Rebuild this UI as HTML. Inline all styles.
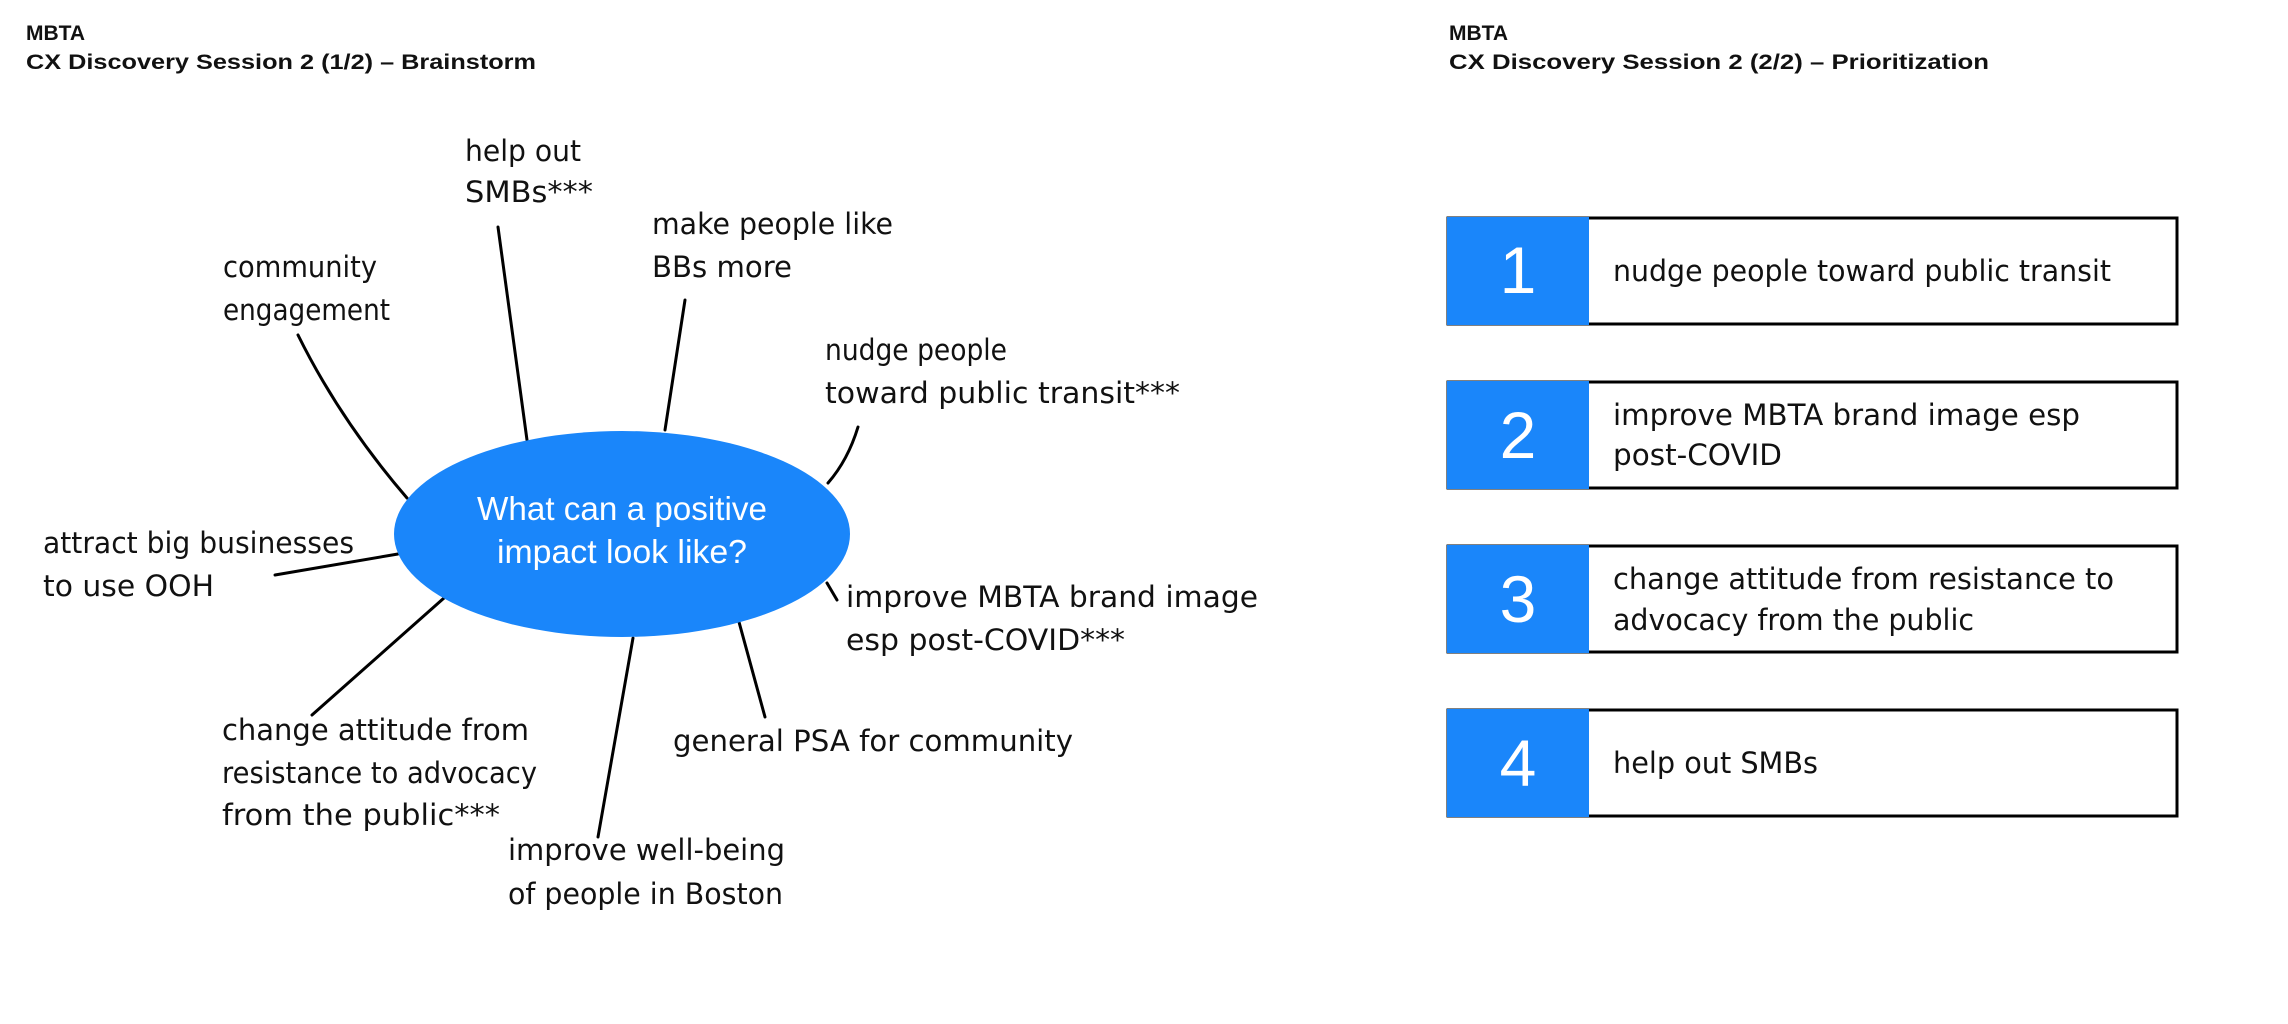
<!DOCTYPE html>
<html><head><meta charset="utf-8"><style>
html,body{margin:0;padding:0;background:#fff;}
svg{display:block}
.t{font-family:"Liberation Sans",sans-serif;font-weight:bold;font-size:21px;fill:#111}
.h{font-family:"DejaVu Sans","Liberation Sans",sans-serif;font-size:29px;fill:#111}
.c{font-family:"Liberation Sans",sans-serif;font-size:33px;fill:#fff}
.n{font-family:"Liberation Sans",sans-serif;font-size:66px;fill:#fff}
</style></head><body>
<svg width="2288" height="1024" viewBox="0 0 2288 1024" xmlns="http://www.w3.org/2000/svg">
<text class="t" x="26" y="40">MBTA</text>
<text class="t" x="26" y="69" textLength="510" lengthAdjust="spacingAndGlyphs">CX Discovery Session 2 (1/2) – Brainstorm</text>
<text class="t" x="1449" y="40">MBTA</text>
<text class="t" x="1449" y="69" textLength="540" lengthAdjust="spacingAndGlyphs">CX Discovery Session 2 (2/2) – Prioritization</text>

<g stroke="#000" stroke-width="3" fill="none" stroke-linecap="round">
<path d="M298,335 Q340,420 407,498"/>
<line x1="498" y1="227" x2="527" y2="440"/>
<line x1="685" y1="300" x2="665" y2="430"/>
<path d="M858,427 Q848,460 828,483"/>
<line x1="275" y1="575" x2="398" y2="554"/>
<line x1="312" y1="715" x2="444" y2="598"/>
<line x1="598" y1="837" x2="633" y2="638"/>
<line x1="765" y1="717" x2="739" y2="622"/>
<line x1="837" y1="600" x2="827" y2="583"/>
</g>
<ellipse cx="622" cy="534" rx="228" ry="103" fill="#1a86fa"/>
<text class="c" x="622" y="520" text-anchor="middle" textLength="290" lengthAdjust="spacingAndGlyphs">What can a positive</text>
<text class="c" x="622" y="563" text-anchor="middle" textLength="250" lengthAdjust="spacingAndGlyphs">impact look like?</text>

<text class="h" x="465" y="161" textLength="116" lengthAdjust="spacingAndGlyphs">help out</text>
<text class="h" x="465" y="202" textLength="128" lengthAdjust="spacingAndGlyphs">SMBs***</text>
<text class="h" x="652" y="234" textLength="241" lengthAdjust="spacingAndGlyphs">make people like</text>
<text class="h" x="652" y="277" textLength="140" lengthAdjust="spacingAndGlyphs">BBs more</text>
<text class="h" x="223" y="277" textLength="154" lengthAdjust="spacingAndGlyphs">community</text>
<text class="h" x="223" y="320" textLength="167" lengthAdjust="spacingAndGlyphs">engagement</text>
<text class="h" x="825" y="360" textLength="182" lengthAdjust="spacingAndGlyphs">nudge people</text>
<text class="h" x="825" y="403" textLength="355" lengthAdjust="spacingAndGlyphs">toward public transit***</text>
<text class="h" x="43" y="553" textLength="311" lengthAdjust="spacingAndGlyphs">attract big businesses</text>
<text class="h" x="43" y="596" textLength="171" lengthAdjust="spacingAndGlyphs">to use OOH</text>
<text class="h" x="846" y="607" textLength="412" lengthAdjust="spacingAndGlyphs">improve MBTA brand image</text>
<text class="h" x="846" y="650" textLength="279" lengthAdjust="spacingAndGlyphs">esp post-COVID***</text>
<text class="h" x="673" y="751" textLength="400" lengthAdjust="spacingAndGlyphs">general PSA for community</text>
<text class="h" x="222" y="740" textLength="307" lengthAdjust="spacingAndGlyphs">change attitude from</text>
<text class="h" x="222" y="783" textLength="315" lengthAdjust="spacingAndGlyphs">resistance to advocacy</text>
<text class="h" x="222" y="825" textLength="278" lengthAdjust="spacingAndGlyphs">from the public***</text>
<text class="h" x="508" y="860" textLength="277" lengthAdjust="spacingAndGlyphs">improve well-being</text>
<text class="h" x="508" y="904" textLength="275" lengthAdjust="spacingAndGlyphs">of people in Boston</text>

<g>
<rect x="1448" y="218" width="729" height="106" fill="#fff" stroke="#000" stroke-width="3"/>
<rect x="1447" y="217" width="142" height="108" fill="#1a86fa"/>
<text class="n" x="1518" y="293" text-anchor="middle">1</text>
<text class="h" x="1613" y="281" textLength="498" lengthAdjust="spacingAndGlyphs">nudge people toward public transit</text>

<rect x="1448" y="382" width="729" height="106" fill="#fff" stroke="#000" stroke-width="3"/>
<rect x="1447" y="381" width="142" height="108" fill="#1a86fa"/>
<text class="n" x="1518" y="458" text-anchor="middle">2</text>
<text class="h" x="1613" y="425" textLength="467" lengthAdjust="spacingAndGlyphs">improve MBTA brand image esp</text>
<text class="h" x="1613" y="465" textLength="169" lengthAdjust="spacingAndGlyphs">post-COVID</text>

<rect x="1448" y="546" width="729" height="106" fill="#fff" stroke="#000" stroke-width="3"/>
<rect x="1447" y="545" width="142" height="108" fill="#1a86fa"/>
<text class="n" x="1518" y="622" text-anchor="middle">3</text>
<text class="h" x="1613" y="589" textLength="501" lengthAdjust="spacingAndGlyphs">change attitude from resistance to</text>
<text class="h" x="1613" y="630" textLength="361" lengthAdjust="spacingAndGlyphs">advocacy from the public</text>

<rect x="1448" y="710" width="729" height="106" fill="#fff" stroke="#000" stroke-width="3"/>
<rect x="1447" y="709" width="142" height="108" fill="#1a86fa"/>
<text class="n" x="1518" y="786" text-anchor="middle">4</text>
<text class="h" x="1613" y="773" textLength="205" lengthAdjust="spacingAndGlyphs">help out SMBs</text>
</g>
</svg>
</body></html>
